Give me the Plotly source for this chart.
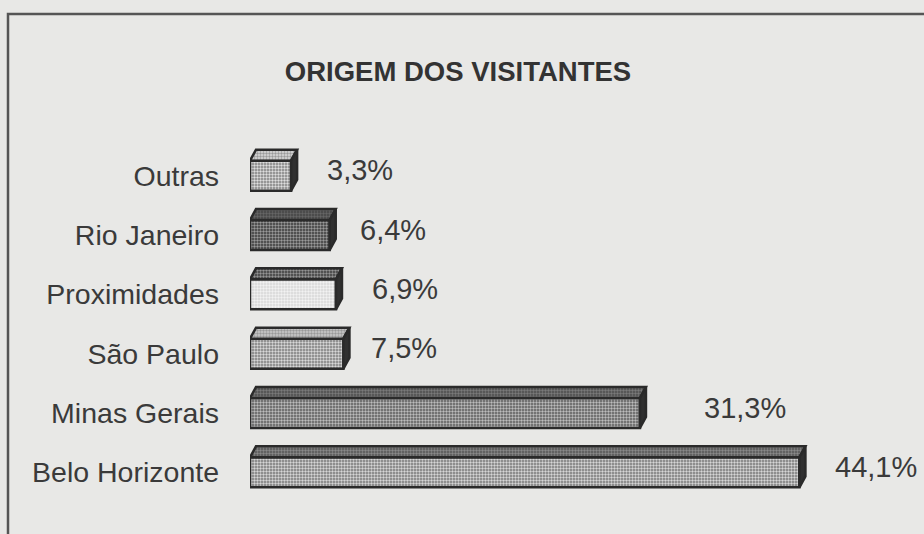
import plotly.graph_objects as go

# ---- data ----
categories = ["Outras", "Rio Janeiro", "Proximidades", "São Paulo", "Minas Gerais", "Belo Horizonte"]
values = [3.3, 6.4, 6.9, 7.5, 31.3, 44.1]
title_text = "ORIGEM DOS VISITANTES"

# ---- style ----
W, H = 924, 534
ML, MR, MT, MB = 250, 0, 146, 32
XMAX = 54.1
plot_w = W - ML - MR
plot_h = H - MT - MB
px_x = plot_w / XMAX
px_y = plot_h / 6.0
DX = 6 / px_x           # depth of 3D effect (x, data units)
DY = 11 / px_y          # depth of 3D effect (y, data units)
BAR_H = 30 / px_y       # front face height
OUTLINE = "#2a2a2a"
BG = "#e8e8e6"
TXT = "#3a3a3a"
FONT = "Liberation Sans, Arial, Helvetica, sans-serif"

front_bg = ["#7e7e7e", "#383838", "#d6d6d6", "#7a7a7a", "#5a5a5a", "#767676"]
front_fg = ["#dedede", "#9a9a9a", "#f2f2f2", "#d8d8d8", "#bcbcbc", "#d6d6d6"]
top_bg = ["#dcdcdc", "#444444", "#3a3a3a", "#cccccc", "#4c4c4c", "#555555"]
top_fg = ["#555555", "#888888", "#eeeeee", "#666666", "#a8a8a8", "#c0c0c0"]
label_gap = [28, 22, 28, 20, 56, 28]   # px gap between bar end and value label

n = len(categories)
pos = [n - 1 - i for i in range(n)]

fig = go.Figure()

for i in range(n):
    v, y = values[i], pos[i]
    top = y + BAR_H / 2
    bot = y - BAR_H / 2
    # top face
    fig.add_trace(go.Scatter(
        x=[0, v, v + DX, DX, 0], y=[top, top, top + DY, top + DY, top],
        mode="lines", fill="toself", fillcolor=top_bg[i],
        fillpattern=dict(shape=".", fgcolor=top_fg[i], bgcolor=top_bg[i], size=3, solidity=0.5),
        line=dict(color=OUTLINE, width=2.5), hoverinfo="skip", showlegend=False))
    # side face
    fig.add_trace(go.Scatter(
        x=[v, v + DX, v + DX, v, v], y=[bot, bot + DY, top + DY, top, bot],
        mode="lines", fill="toself", fillcolor="#303030",
        line=dict(color=OUTLINE, width=2.5), hoverinfo="skip", showlegend=False))

# front faces
for i in range(n):
    fig.add_trace(go.Bar(
        x=[values[i]], y=[pos[i]], orientation="h", width=BAR_H,
        marker=dict(color=front_bg[i],
                    line=dict(color=OUTLINE, width=2.5),
                    pattern=dict(shape=".", fgcolor=front_fg[i], bgcolor=front_bg[i],
                                 size=3, solidity=0.5, fillmode="replace")),
        hoverinfo="skip", showlegend=False))

annotations = []
for i in range(n):
    txt = f"{values[i]:.1f}".replace(".", ",") + "%"
    annotations.append(dict(
        x=values[i] + DX, y=pos[i] + DY / 2, xref="x", yref="y",
        text=txt, showarrow=False, xanchor="left", yanchor="middle",
        xshift=label_gap[i], font=dict(size=29, color=TXT, family=FONT)))

# frame around the chart (extends past the right and bottom edges)
fx0 = (8 - ML) / plot_w
fy1 = (H - MB - 14) / plot_h
shapes = [dict(type="rect", xref="paper", yref="paper", x0=fx0, x1=2.0, y0=-0.5, y1=fy1,
               line=dict(color="#555555", width=2.5), fillcolor="rgba(0,0,0,0)", layer="below")]

fig.update_layout(
    width=W, height=H,
    margin=dict(l=ML, r=MR, t=MT, b=MB),
    paper_bgcolor=BG, plot_bgcolor=BG,
    barmode="overlay",
    title=dict(text="<b>" + title_text + "</b>", x=458 / W, y=1 - 71 / H,
               xref="container", yref="container", xanchor="center", yanchor="middle",
               font=dict(size=27.5, color="#333333", family=FONT)),
    xaxis=dict(range=[0, XMAX], visible=False, fixedrange=True),
    yaxis=dict(range=[-0.5, 5.5], tickvals=pos, ticktext=categories,
               showgrid=False, zeroline=False, showline=False, ticks="",
               ticklabelstandoff=30,
               tickfont=dict(size=28.5, color=TXT, family=FONT), fixedrange=True),
    annotations=annotations, shapes=shapes,
    font=dict(family=FONT, color=TXT),
)

fig.write_html("out.html", config={"displayModeBar": False},
               post_script="document.body.style.margin='0';document.body.style.overflow='hidden';")
